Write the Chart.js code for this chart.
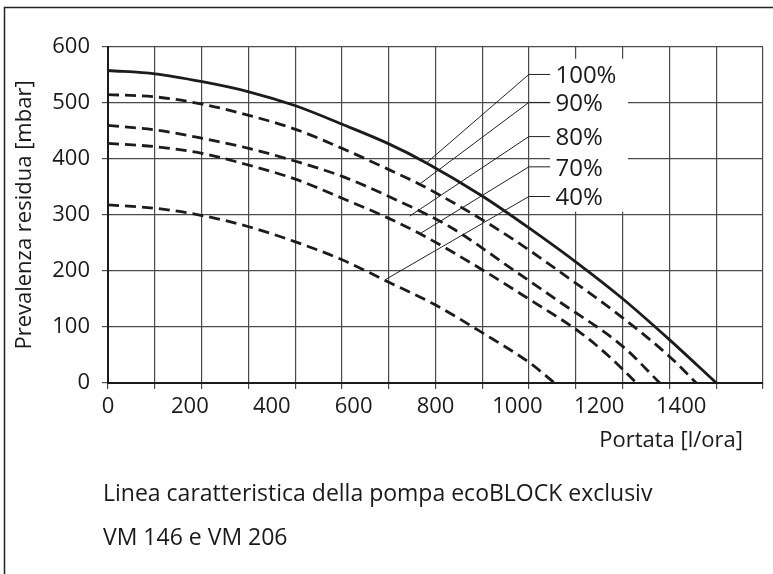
<!DOCTYPE html>
<html>
<head>
<meta charset="utf-8">
<script src="https://cdn.jsdelivr.net/npm/chart.js@4.4.1/dist/chart.umd.min.js"></script>
<style>
  html, body { margin: 0; padding: 0; background: #fff; }
  canvas { display: block; }
</style>
</head>
<body>
<canvas id="pumpChart" width="773" height="574"></canvas>
<script>
// values (x = l/ora, y = mbar)
const speedLabels = ['100%', '90%', '80%', '70%', '40%'];

const flow100 = [0, 115, 230, 344, 458, 572, 686, 778, 916, 1030, 1152, 1258, 1372, 1486];
const head100 = [558, 552, 538, 520, 495, 462, 427, 393, 333, 276, 211, 150, 77, 0];

const flow90 = [0, 115, 230, 344, 458, 572, 686, 761, 867, 989, 1103, 1258, 1372, 1437];
const head90 = [515, 511, 498, 478, 453, 419, 381, 355, 312, 257, 199, 116, 47, 0];

const flow80 = [0, 115, 230, 344, 458, 572, 686, 835, 990, 1103, 1258, 1348];
const head80 = [460, 452, 437, 419, 396, 369, 333, 279, 202, 145, 65, 0];

const flow70 = [0, 115, 230, 344, 458, 572, 686, 761, 908, 1030, 1152, 1225, 1291];
const head70 = [428, 422, 410, 389, 364, 330, 294, 267, 205, 149, 91, 47, 0];

const flow40 = [0, 115, 230, 344, 458, 572, 686, 798, 916, 1030, 1091];
const head40 = [318, 312, 299, 279, 252, 220, 180, 140, 89, 36, 0];

// where each leader line touches its curve, and the height of its label
const leaderFlow = [778, 761, 737, 763, 676];
const leaderHead = [393, 355, 298, 267, 184];
const labelHead = [551, 501, 440, 386, 333];

const xTickLabels = [0, 200, 400, 600, 800, 1000, 1200, 1400];
const xMax = 1600;
const xGridCount = 14;
const yMax = 600;

const FONT = '"Open Sans", "Noto Sans", sans-serif';
const INK = '#1a1a1a';

function toPoints(xs, ys) {
  return xs.map((x, i) => ({ x: x, y: ys[i] }));
}

function curve(label, xs, ys, dashed) {
  return {
    label: label,
    data: toPoints(xs, ys),
    borderColor: '#1c1c1c',
    borderWidth: 2.8,
    borderDash: dashed ? [11, 6] : [],
    pointRadius: 0,
    cubicInterpolationMode: 'monotone',
    fill: false
  };
}

const labelsPlugin = {
  id: 'pumpLabels',
  afterDatasetsDraw(chart) {
    const ctx = chart.ctx;
    const xs = chart.scales.x;
    const ys = chart.scales.y;

    // white box behind the speed labels
    const bx0 = xs.getPixelForValue(1080);
    const bx1 = xs.getPixelForValue(1270);
    const by0 = ys.getPixelForValue(579);
    const by1 = ys.getPixelForValue(306);
    ctx.save();
    ctx.fillStyle = '#fff';
    ctx.fillRect(bx0, by0, bx1 - bx0, by1 - by0);

    ctx.strokeStyle = '#222';
    ctx.lineWidth = 1;
    ctx.font = '24px ' + FONT;
    ctx.fillStyle = INK;
    ctx.textBaseline = 'middle';
    ctx.textAlign = 'left';
    const elbowX = xs.getPixelForValue(1028);
    const textX = xs.getPixelForValue(1093);
    speedLabels.forEach((txt, i) => {
      const ly = ys.getPixelForValue(labelHead[i]);
      ctx.beginPath();
      ctx.moveTo(xs.getPixelForValue(leaderFlow[i]), ys.getPixelForValue(leaderHead[i]));
      ctx.lineTo(elbowX, ly);
      ctx.lineTo(bx0, ly);
      ctx.stroke();
      ctx.fillText(txt, textX, ly + 2);
    });
    ctx.restore();
  },
  afterDraw(chart) {
    const ctx = chart.ctx;
    ctx.save();
    // outer frame
    ctx.strokeStyle = '#222';
    ctx.lineWidth = 1.5;
    ctx.beginPath();
    ctx.moveTo(4.5, chart.height);
    ctx.lineTo(4.5, 7.5);
    ctx.lineTo(chart.width, 7.5);
    ctx.stroke();

    ctx.fillStyle = INK;
    ctx.font = '22px ' + FONT;
    ctx.textBaseline = 'middle';
    ctx.textAlign = 'right';
    ctx.fillText('Portata [l/ora]', 743, 441);

    ctx.font = '23px ' + FONT;
    ctx.textAlign = 'left';
    ctx.fillText('Linea caratteristica della pompa ecoBLOCK exclusiv', 103, 494);
    ctx.fillText('VM 146 e VM 206', 103, 538);
    ctx.restore();
  }
};

new Chart(document.getElementById('pumpChart'), {
  type: 'line',
  data: {
    datasets: [
      curve(speedLabels[0], flow100, head100, false),
      curve(speedLabels[1], flow90, head90, true),
      curve(speedLabels[2], flow80, head80, true),
      curve(speedLabels[3], flow70, head70, true),
      curve(speedLabels[4], flow40, head40, true)
    ]
  },
  options: {
    responsive: false,
    animation: false,
    layout: { padding: { top: 47, right: 10, left: 0, bottom: 0 } },
    plugins: {
      legend: { display: false },
      tooltip: { enabled: false }
    },
    scales: {
      xGrid: {
        type: 'linear',
        position: 'bottom',
        weight: 0,
        min: 0,
        max: xMax,
        afterBuildTicks(scale) {
          const ticks = [];
          for (let i = 0; i <= xGridCount; i++) {
            ticks.push({ value: i * xMax / xGridCount });
          }
          scale.ticks = ticks;
        },
        afterFit(scale) { scale.height = 0; },
        ticks: { display: false },
        grid: { color: '#4a4a4a', lineWidth: 1.2, tickLength: 6 },
        border: { color: '#1a1a1a', width: 2 }
      },
      x: {
        type: 'linear',
        position: 'bottom',
        weight: 1,
        min: 0,
        max: xMax,
        afterBuildTicks(scale) {
          scale.ticks = xTickLabels.map(v => ({ value: v }));
        },
        afterFit(scale) { scale.height = 574 - 383; },
        grid: { display: false, drawTicks: false },
        border: { display: false },
        ticks: {
          color: INK,
          padding: 11,
          maxRotation: 0,
          autoSkip: false,
          font: { family: FONT, size: 22 },
          callback: v => String(v)
        }
      },
      y: {
        type: 'linear',
        min: 0,
        max: yMax,
        afterFit(scale) { scale.width = 108; },
        ticks: {
          stepSize: 50,
          color: INK,
          padding: 12,
          font: { family: FONT, size: 22 },
          callback: v => (v % 100 === 0 ? String(v) : '')
        },
        grid: { color: '#4a4a4a', lineWidth: 1.2, tickLength: 6 },
        border: { color: '#1a1a1a', width: 2 },
        title: {
          display: true,
          text: 'Prevalenza residua [mbar]',
          color: INK,
          padding: { top: 12, bottom: 0 },
          font: { family: FONT, size: 22 }
        }
      }
    }
  },
  plugins: [labelsPlugin]
});
</script>
</body>
</html>
